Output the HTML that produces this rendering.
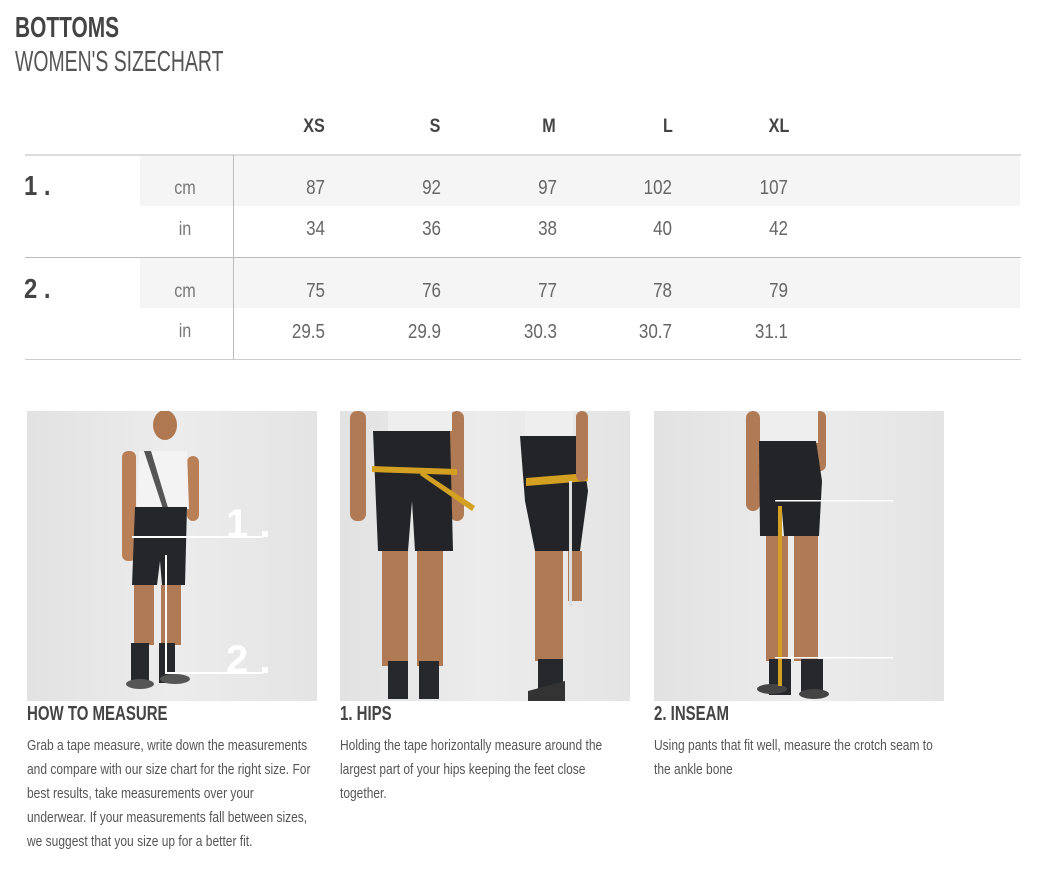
<!DOCTYPE html>
<html><head><meta charset="utf-8"><style>
*{margin:0;padding:0;box-sizing:border-box}
body{width:1046px;height:890px;background:#fff;position:relative;overflow:hidden;font-family:"Liberation Sans Narrow","Liberation Sans",sans-serif;color:#555}
.a{position:absolute;white-space:nowrap}
.h{font-size:19px;color:#444;font-weight:bold;text-align:center;width:60px;transform:scaleX(.85)}
.n{font-size:20px;color:#666;text-align:right;width:60px;transform-origin:right;transform:scaleX(.85)}
.u{font-size:19px;color:#777;text-align:center;width:40px;transform:scaleX(.85)}
.img{position:absolute;width:290px;height:290px;background:linear-gradient(90deg,#e2e2e2,#ececec 50%,#e4e4e4);overflow:hidden}
.cap{position:absolute;font-size:20px;font-weight:bold;color:#444;transform-origin:left;transform:scaleX(.75);white-space:nowrap}
.txt{position:absolute;font-size:15px;line-height:24px;color:#555;white-space:nowrap;transform-origin:left top;transform:scaleX(.8)}
</style></head><body>
<div class="a" style="left:15px;top:12px;font-size:29px;font-weight:bold;color:#444;transform-origin:left;transform:scaleX(.72)">BOTTOMS</div>
<div class="a" style="left:15px;top:46px;font-size:29px;color:#555;transform-origin:left;transform:scaleX(.67)">WOMEN'S SIZECHART</div>

<div class="a h" style="left:284px;top:116px">XS</div>
<div class="a h" style="left:405px;top:116px">S</div>
<div class="a h" style="left:519px;top:116px">M</div>
<div class="a h" style="left:638px;top:116px">L</div>
<div class="a h" style="left:749px;top:116px">XL</div>

<div class="a" style="left:140px;top:156px;width:880px;height:50px;background:#f5f5f5"></div>
<div class="a" style="left:140px;top:258px;width:880px;height:50px;background:#f5f5f5"></div>
<div class="a" style="left:25px;top:154px;width:996px;height:2px;background:#ddd"></div>
<div class="a" style="left:25px;top:257px;width:996px;height:1px;background:#bbb"></div>
<div class="a" style="left:25px;top:359px;width:996px;height:1px;background:#ccc"></div>
<div class="a" style="left:233px;top:155px;width:1px;height:204px;background:#bbb"></div>

<div class="a" style="left:24px;top:170px;font-size:28px;font-weight:bold;color:#444;transform-origin:left;transform:scaleX(.85)">1 .</div>
<div class="a" style="left:24px;top:273px;font-size:28px;font-weight:bold;color:#444;transform-origin:left;transform:scaleX(.85)">2 .</div>
<div class="a u" style="left:165px;top:178px">cm</div>
<div class="a u" style="left:165px;top:219px">in</div>
<div class="a u" style="left:165px;top:281px">cm</div>
<div class="a u" style="left:165px;top:321px">in</div>

<div class="a n" style="left:265px;top:177px">87</div><div class="a n" style="left:381px;top:177px">92</div><div class="a n" style="left:497px;top:177px">97</div><div class="a n" style="left:612px;top:177px">102</div><div class="a n" style="left:728px;top:177px">107</div>
<div class="a n" style="left:265px;top:218px">34</div><div class="a n" style="left:381px;top:218px">36</div><div class="a n" style="left:497px;top:218px">38</div><div class="a n" style="left:612px;top:218px">40</div><div class="a n" style="left:728px;top:218px">42</div>
<div class="a n" style="left:265px;top:280px">75</div><div class="a n" style="left:381px;top:280px">76</div><div class="a n" style="left:497px;top:280px">77</div><div class="a n" style="left:612px;top:280px">78</div><div class="a n" style="left:728px;top:280px">79</div>
<div class="a n" style="left:265px;top:321px">29.5</div><div class="a n" style="left:381px;top:321px">29.9</div><div class="a n" style="left:497px;top:321px">30.3</div><div class="a n" style="left:612px;top:321px">30.7</div><div class="a n" style="left:728px;top:321px">31.1</div>

<div class="img" style="left:27px;top:411px">
<svg width="290" height="290">
<ellipse cx="138" cy="14" rx="12" ry="15" fill="#b07850"/>
<rect x="95" y="40" width="14" height="110" rx="6" fill="#b98058"/>
<rect x="160" y="45" width="12" height="65" rx="6" fill="#b98058"/>
<path d="M112 40 L160 40 L162 98 L110 98Z" fill="#f3f3f3"/>
<path d="M117 40 L124 40 L145 110 L140 110Z" fill="#555"/>
<path d="M108 96 L160 96 L158 174 L135 174 L133 150 L130 174 L105 174Z" fill="#24262a"/>
<rect x="107" y="174" width="20" height="60" fill="#b07a55"/>
<rect x="134" y="174" width="20" height="60" fill="#b07a55"/>
<rect x="104" y="232" width="18" height="40" fill="#26282b"/>
<rect x="132" y="232" width="16" height="40" fill="#26282b"/>
<ellipse cx="113" cy="273" rx="14" ry="5" fill="#555"/>
<ellipse cx="148" cy="268" rx="15" ry="5" fill="#555"/>
<rect x="105" y="125" width="131" height="2" fill="#fff"/>
<rect x="138" y="144" width="2" height="119" fill="#fff"/>
<rect x="138" y="261" width="98" height="2" fill="#fff"/>
<text x="199" y="126" font-family="Liberation Sans" font-weight="bold" font-size="40" fill="#fff">1 .</text>
<text x="199" y="262" font-family="Liberation Sans" font-weight="bold" font-size="40" fill="#fff">2 .</text>
</svg></div>

<div class="img" style="left:340px;top:411px">
<svg width="290" height="290">
<rect x="10" y="0" width="16" height="110" rx="7" fill="#b07a55"/>
<rect x="110" y="0" width="14" height="110" rx="7" fill="#b07a55"/>
<rect x="48" y="0" width="64" height="20" fill="#eee"/>
<path d="M33 20 L110 20 L113 140 L75 140 L72 90 L68 140 L38 140Z" fill="#222427"/>
<rect x="42" y="140" width="26" height="115" fill="#b07a55"/>
<rect x="77" y="140" width="26" height="115" fill="#b07a55"/>
<rect x="48" y="250" width="20" height="38" fill="#26282b"/>
<rect x="79" y="250" width="20" height="38" fill="#26282b"/>
<path d="M32 55 L117 58 L117 64 L32 61Z" fill="#d4a021"/>
<path d="M82 60 L135 95 L132 100 L80 64Z" fill="#d4a021"/>
<rect x="185" y="0" width="48" height="30" fill="#eee"/>
<path d="M180 25 L240 25 L248 80 L240 140 L195 140 L185 90Z" fill="#222427"/>
<rect x="195" y="140" width="28" height="110" fill="#b07a55"/>
<rect x="228" y="140" width="14" height="50" fill="#b07a55"/>
<rect x="198" y="248" width="25" height="35" fill="#26282b"/>
<path d="M188 280 L225 270 L225 290 L188 290Z" fill="#333"/>
<path d="M186 67 L248 62 L248 70 L186 75Z" fill="#d4a021"/>
<rect x="229" y="70" width="3" height="125" fill="#ddd"/>
<rect x="236" y="0" width="12" height="70" rx="6" fill="#b07a55"/>
</svg></div>

<div class="img" style="left:654px;top:411px">
<svg width="290" height="290">
<rect x="92" y="0" width="14" height="100" rx="7" fill="#b07a55"/>
<rect x="160" y="0" width="12" height="60" rx="6" fill="#b07a55"/>
<rect x="106" y="0" width="58" height="32" fill="#eee"/>
<path d="M105 30 L162 30 L168 70 L165 125 L130 125 L128 100 L125 125 L106 125Z" fill="#222427"/>
<rect x="112" y="125" width="22" height="125" fill="#b07a55"/>
<rect x="140" y="125" width="24" height="125" fill="#b07a55"/>
<rect x="115" y="248" width="22" height="36" fill="#26282b"/>
<rect x="147" y="248" width="22" height="36" fill="#26282b"/>
<ellipse cx="118" cy="278" rx="15" ry="5" fill="#444"/>
<ellipse cx="160" cy="283" rx="15" ry="5" fill="#444"/>
<rect x="124" y="95" width="4" height="180" fill="#d4a021"/>
<rect x="121" y="89" width="118" height="1.5" fill="#fff"/>
<rect x="121" y="246" width="118" height="1.5" fill="#fff"/>
</svg></div>

<div class="cap" style="left:27px;top:703px">HOW TO MEASURE</div>
<div class="cap" style="left:340px;top:703px">1. HIPS</div>
<div class="cap" style="left:654px;top:703px">2. INSEAM</div>
<div class="txt" style="left:27px;top:734px">Grab a tape measure, write down the measurements<br>and compare with our size chart for the right size. For<br>best results, take measurements over your<br>underwear. If your measurements fall between sizes,<br>we suggest that you size up for a better fit.</div>
<div class="txt" style="left:340px;top:734px">Holding the tape horizontally measure around the<br>largest part of your hips keeping the feet close<br>together.</div>
<div class="txt" style="left:654px;top:734px">Using pants that fit well, measure the crotch seam to<br>the ankle bone</div>
</body></html>
